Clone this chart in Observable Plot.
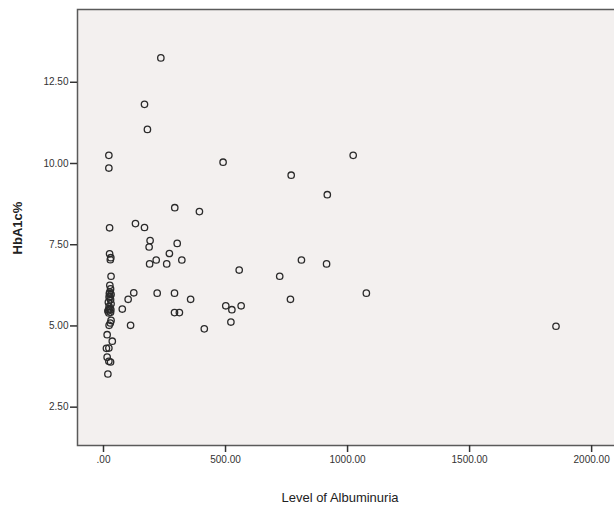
<!DOCTYPE html>
<html>
<head>
<meta charset="utf-8">
<script src="https://cdn.jsdelivr.net/npm/d3@7"></script>
<script src="https://cdn.jsdelivr.net/npm/@observablehq/plot@0.6"></script>
<style>
  html, body { margin: 0; padding: 0; background: #fff; overflow: hidden; }
  #chart svg { display: block; }
</style>
</head>
<body>
<div id="chart"></div>
<script>
// Level of Albuminuria (x) and HbA1c% (y)
const albuminuria = [
  22, 22, 25, 25, 30, 28, 31,
  26, 29, 26, 31, 23, 29, 20, 31, 23, 26, 18, 29, 30, 22, 24, 27, 21,
  31, 23, 28, 15, 36, 12, 22, 15, 22, 29, 18,
  235, 168, 180, 490, 769, 917, 1023, 292, 393, 131, 168, 191, 187, 302, 270,
  216, 189, 259, 321, 811, 556, 722, 914, 124, 101, 77, 220, 291, 357, 291, 311,
  111, 413, 501, 526, 564, 522, 766, 1077, 1854
];
const hba1c = [
  10.25, 9.86, 8.02, 7.22, 7.10, 7.04, 6.53,
  6.25, 6.14, 6.04, 5.97, 5.89, 5.81, 5.73, 5.68, 5.60, 5.53, 5.46, 5.42, 5.50, 5.40, 6.00, 5.90, 5.50,
  5.17, 5.02, 5.09, 4.73, 4.53, 4.31, 4.32, 4.04, 3.91, 3.89, 3.52,
  13.25, 11.82, 11.05, 10.04, 9.64, 9.04, 10.25, 8.64, 8.52, 8.15, 8.03, 7.63, 7.43, 7.54, 7.23,
  7.03, 6.91, 6.91, 7.03, 7.03, 6.72, 6.53, 6.91, 6.02, 5.82, 5.52, 6.01, 6.01, 5.82, 5.41, 5.41,
  5.02, 4.91, 5.62, 5.50, 5.62, 5.12, 5.82, 6.01, 4.99
];
const xTicks = [0, 500, 1000, 1500, 2000];
const xTickLabels = [".00", "500.00", "1000.00", "1500.00", "2000.00"];
const yTicks = [2.5, 5, 7.5, 10, 12.5];
const yTickLabels = ["2.50", "5.00", "7.50", "10.00", "12.50"];
const xTitle = "Level of Albuminuria";
const yTitle = "HbA1c%";

const data = albuminuria.map((x, i) => ({x, y: hba1c[i]}));
const xLab = new Map(xTicks.map((t, i) => [t, xTickLabels[i]]));
const yLab = new Map(yTicks.map((t, i) => [t, yTickLabels[i]]));

const chart = Plot.plot({
  width: 614,
  height: 510,
  marginLeft: 77,
  marginRight: -3,
  marginTop: 9,
  marginBottom: 65,
  style: {fontFamily: "'Liberation Sans', Arial, sans-serif", fontSize: "10px", color: "#333", background: "#fff"},
  x: {domain: [-106.5, 2106], ticks: xTicks, tickFormat: d => xLab.get(d), tickSize: 7, tickPadding: 3, label: null},
  y: {domain: [1.32, 14.74], ticks: yTicks, tickFormat: d => yLab.get(d), tickSize: 7, tickPadding: 2, label: null},
  marks: [
    Plot.frame({fill: "#f3f0ef", stroke: null}),
    Plot.dot(data, {x: "x", y: "y", r: 3.2, stroke: "#2a2a2a", strokeWidth: 1.3, fill: "none"}),
    Plot.frame({stroke: "#5a5a5a", strokeWidth: 1.5}),
    Plot.axisX({ticks: xTicks, tickFormat: d => xLab.get(d), tickSize: 7, tickPadding: 3, stroke: "#333", strokeWidth: 1.5, label: null}),
    Plot.axisY({ticks: yTicks, tickFormat: d => yLab.get(d), tickSize: 7, tickPadding: 2, stroke: "#333", strokeWidth: 1.5, label: null})
  ]
});
const svg = d3.select(chart);
// axis titles as real text
svg.append("text")
  .attr("x", 340).attr("y", 502)
  .attr("text-anchor", "middle")
  .attr("font-size", 13).attr("fill", "#222")
  .text(xTitle);
svg.append("text")
  .attr("transform", "translate(22,228) rotate(-90)")
  .attr("text-anchor", "middle")
  .attr("font-size", 13).attr("font-weight", "bold").attr("fill", "#222")
  .text(yTitle);
document.getElementById("chart").appendChild(chart);
</script>
</body>
</html>
